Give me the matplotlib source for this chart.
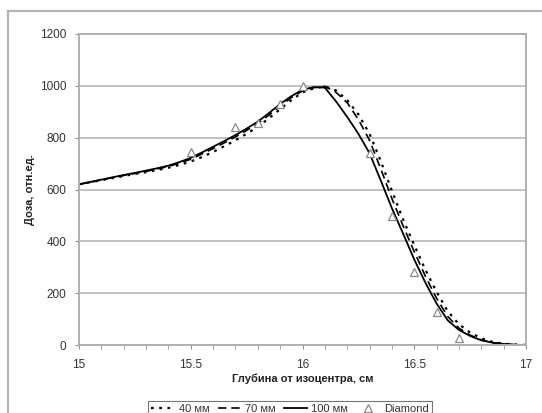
import numpy as np
import matplotlib
matplotlib.use("Agg")
from matplotlib import pyplot as plt
from matplotlib.patches import Rectangle
from matplotlib.ticker import MultipleLocator

plt.rcParams["font.family"] = ["Liberation Sans", "DejaVu Sans"]

# ------------------------------------------------------------------------------
#  Data
# ------------------------------------------------------------------------------

depth = [15.00, 15.05, 15.10, 15.15, 15.20, 15.25, 15.30, 15.35, 15.40, 15.45,
         15.50, 15.55, 15.60, 15.65, 15.70, 15.75, 15.80, 15.85, 15.90, 15.95,
         16.00, 16.05, 16.10, 16.15, 16.20, 16.25, 16.30, 16.35, 16.40, 16.45,
         16.50, 16.55, 16.60, 16.65, 16.70, 16.75, 16.80, 16.85, 16.90, 16.95,
         17.00]

dose_40 = [620, 628, 636, 644, 652, 660, 667, 675, 684, 695,
           708, 725, 745, 767, 790, 815, 842, 875, 910, 945,
           975, 990, 998, 982, 945, 890, 815, 710, 595, 485,
           385, 290, 205, 130, 80, 48, 26, 12, 5, 2,
           0]

dose_70 = [620, 628, 637, 646, 654, 662, 670, 679, 689, 702,
           717, 737, 758, 780, 803, 828, 855, 887, 922, 955,
           980, 993, 998, 975, 935, 870, 790, 680, 565, 460,
           360, 265, 180, 110, 65, 38, 20, 9, 4, 1,
           0]

dose_100 = [620, 629, 638, 647, 656, 664, 673, 682, 692, 706,
            722, 743, 765, 787, 810, 835, 862, 895, 930, 960,
            985, 995, 993, 940, 880, 815, 740, 635, 528, 430,
            330, 240, 160, 95, 58, 35, 18, 9, 4, 1,
            0]

diamond_x = [15.5, 15.7, 15.8, 15.9, 16.0, 16.3, 16.4, 16.5, 16.6, 16.7]
diamond_y = [745, 840, 855, 928, 1000, 740, 497, 280, 128, 28]

# ------------------------------------------------------------------------------
#  Plot
# ------------------------------------------------------------------------------

W, H = 542, 413
fig = plt.figure(figsize=(W / 100, H / 100), dpi=100)

# Outer chart frame (runs off the right and bottom edge)
fig.patches.append(
    Rectangle((8 / W, -0.2), 1.2, 1 - 11 / H + 0.2, transform=fig.transFigure,
              fill=False, edgecolor="#b4b4b4", linewidth=1.6)
)

ax = fig.add_axes([79 / W, 1 - 345 / H, (526 - 79) / W, (345 - 34) / H])

ax.plot(depth, dose_40, color="black", linestyle=(0, (1.2, 2.5)),
        linewidth=1.6, label="40 мм")
ax.plot(depth, dose_70, color="black", linestyle=(0, (5, 3)),
        linewidth=1.2, label="70 мм")
ax.plot(depth, dose_100, color="black", linestyle="-",
        linewidth=1.3, label="100 мм")
ax.plot(diamond_x, diamond_y, linestyle="none", marker="^", markersize=5.5,
        markerfacecolor="white", markeredgecolor="#888888",
        markeredgewidth=0.9, label="Diamond")

ax.set_xlim(15, 17)
ax.set_ylim(0, 1200)
ax.xaxis.set_major_locator(MultipleLocator(0.5))
ax.xaxis.set_minor_locator(MultipleLocator(0.1))
ax.yaxis.set_major_locator(MultipleLocator(200))
ax.set_xticks([15, 15.5, 16, 16.5, 17])
ax.set_xticklabels(["15", "15.5", "16", "16.5", "17"])

ax.grid(axis="y", color="#bdbdbd", linewidth=1.3)
ax.set_axisbelow(True)
for side in ax.spines:
    ax.spines[side].set_color("#b0b0b0")
    ax.spines[side].set_linewidth(1.4)

ax.tick_params(axis="both", which="major", direction="out", length=3,
               color="#909090", labelsize=8.5, labelcolor="#333333")
ax.tick_params(axis="x", which="major", pad=7)
ax.tick_params(axis="x", which="minor", direction="out", length=3,
               color="#909090")
ax.tick_params(axis="y", pad=6)

ax.set_xlabel("Глубина от изоцентра, см", fontsize=8, fontweight="bold",
              color="#222222")
ax.set_ylabel("Доза, отн.ед.", fontsize=8, fontweight="bold",
              color="#222222")
ax.xaxis.set_label_coords(0.5, -0.093)
ax.yaxis.set_label_coords(-0.098, 0.5)

leg = fig.legend(loc="upper center", bbox_to_anchor=(290 / W, 1 - 400.5 / H),
                 ncol=4, fontsize=8, frameon=True, fancybox=False,
                 edgecolor="#555555", handlelength=2.1, handletextpad=0.4,
                 columnspacing=0.7, borderpad=0.3, borderaxespad=0)
leg.get_frame().set_linewidth(0.8)
for txt in leg.get_texts():
    txt.set_color("#333333")

fig.savefig("out.png", dpi=100)
